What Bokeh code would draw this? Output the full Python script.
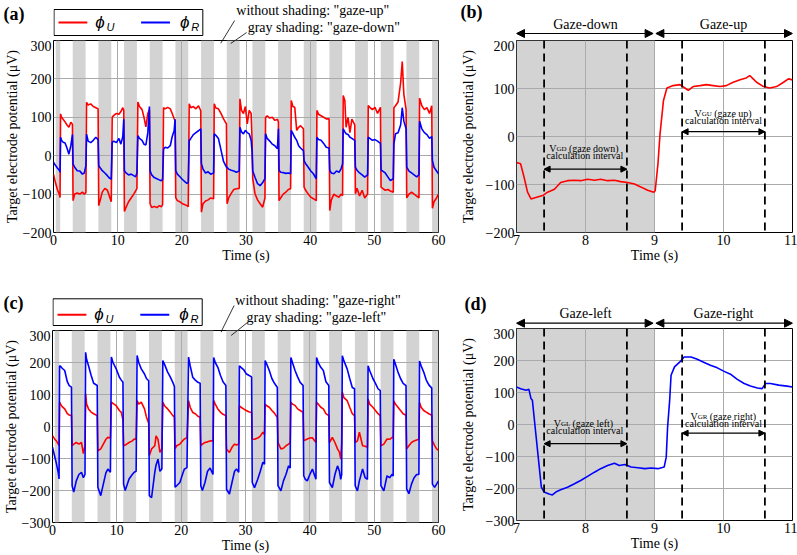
from bokeh.plotting import figure
from bokeh.layouts import column, row
from bokeh.models import (Arrow, BoxAnnotation, CustomJSTickFormatter, FixedTicker,
                          Label, NormalHead, Range1d, Span)
from bokeh.embed import file_html
from bokeh.resources import INLINE

SERIF = "Liberation Serif"
SANS = "Liberation Sans"
RED = "#ff0000"
BLUE = "#0000ff"
SHADE = "#d3d3d3"
GRID = "#aaaaaa"

# ---------------------------------------------------------------- data
# gray bands (gaze-down in (a), gaze-left in (c))
shade_start = [0.35, 3, 7, 11, 15, 19, 23, 27, 31, 35, 39, 43, 47, 51, 55, 59]
shade_end = [1.05, 5, 9, 13, 17, 21, 25, 29, 33, 37, 41, 45, 49, 53, 57, 60]

# (a) vertical-gaze task, 0-60 s
time_a = [
    0.0, 0.3, 0.6, 0.9, 1.02,
    1.1, 1.25, 1.5, 1.8, 2.1, 2.4, 2.7, 2.95,
    3.05, 3.3, 3.7, 4.1, 4.5, 4.8, 5.05,
    5.15, 5.4, 5.8, 6.2, 6.6, 6.95,
    7.05, 7.3, 7.6, 8.0, 8.4, 8.7, 9.0,
    9.15, 9.4, 9.8, 10.2, 10.5, 10.8, 10.95,
    11.05, 11.3, 11.7, 12.1, 12.5, 12.8, 13.0,
    13.15, 13.4, 13.8, 14.1, 14.4, 14.7, 14.95,
    15.05, 15.3, 15.7, 16.1, 16.5, 16.8, 17.0,
    17.15, 17.4, 17.8, 18.2, 18.5, 18.8, 18.95,
    19.05, 19.3, 19.7, 20.1, 20.5, 20.8, 21.0,
    21.15, 21.4, 21.8, 22.2, 22.6, 22.95,
    23.05, 23.3, 23.7, 24.1, 24.5, 24.95,
    25.05, 25.3, 25.7, 26.1, 26.5, 26.95,
    27.05, 27.3, 27.7, 28.1, 28.5, 28.95,
    29.05, 29.3, 29.6, 29.9, 30.2, 30.5, 30.8, 30.95,
    31.05, 31.4, 31.8, 32.2, 32.6, 32.95,
    33.05, 33.3, 33.7, 34.1, 34.5, 34.9, 35.05,
    35.15, 35.4, 35.8, 36.2, 36.6, 36.95,
    37.05, 37.3, 37.6, 37.9, 38.2, 38.5, 38.95,
    39.05, 39.3, 39.7, 40.1, 40.5, 40.95,
    41.05, 41.3, 41.7, 42.1, 42.5, 42.95,
    43.05, 43.3, 43.7, 44.1, 44.5, 44.8, 45.05,
    45.15, 45.4, 45.6, 45.9, 46.2, 46.5, 46.95,
    47.05, 47.3, 47.7, 48.1, 48.5, 48.95,
    49.05, 49.3, 49.7, 50.1, 50.5, 50.95,
    51.05, 51.3, 51.7, 52.1, 52.5, 52.95,
    53.05, 53.3, 53.7, 54.1, 54.35, 54.6, 54.95,
    55.05, 55.4, 55.8, 56.2, 56.6, 56.95,
    57.05, 57.4, 57.8, 58.2, 58.6, 58.95,
    59.05, 59.3, 59.7, 60.0,
]
phi_u_a = [
    -48, -70, -88, -100, -109,
    109, 100, 95, 88, 80, 74, 87, 82,
    -117, -100, -97, -100, -95, -100, -96,
    139, 132, 135, 128, 125, 122,
    -130, -115, -95, -85, -90, -105, -120,
    100, 105, 110, 108, 115, 125, 118,
    -145, -135, -120, -110, -100, -92, -85,
    140, 128, 120, 100, 75, 110, 120,
    -125, -135, -132, -135, -130, -133, -128,
    125, 122, 126, 122, 110, 96, 92,
    -109, -117, -120, -125, -128, -130, -133,
    135, 125, 128, 122, 130, 117,
    -147, -125, -118, -115, -110, -112,
    135, 124, 122, 110, 96, 83,
    -125, -110, -98, -88, -86, -85,
    148, 118, 110, 128, 83, 118, 110, 40,
    -60, -99, -115, -125, -134, -110,
    100, 104, 98, 100, 92, 95, 88,
    -117, -110, -100, -95, -88, -86,
    144, 128, 126, 66, 74, 78, 70,
    -82, -90, -100, -108, -112, -117,
    118, 108, 104, 100, 96, 96,
    -143, -115, -100, -105, -108, -100, -104,
    157, 144, 74, 100, 60, 95, 80,
    -99, -85, -105, -90, -110, -100,
    131, 126, 120, 126, 110, 126,
    -82, -85, -90, -88, -92, -95,
    125, 130, 140, 190, 245, 160, 120,
    -110, -100, -95, -100, -105, -110,
    150, 130, 120, 125, 110, 130,
    -137, -120, -110, -100,
]
phi_r_a = [
    -17, -25, -32, -38, -43,
    48, 40, 35, 33, 20, 4, 26, 55,
    -22, -30, -39, -40, -48, -45, -26,
    56, 38, 34, 40, 48, 42,
    -26, -32, -39, -45, -52, -58, -61,
    35, 38, 34, 45, 30, 50, 95,
    -39, -45, -50, -48, -52, -55, -45,
    52, 45, 40, 30, 28, 60, 128,
    -39, -50, -57, -60, -63, -65, -62,
    17, 22, 20, 26, 50, 65, 95,
    -39, -48, -55, -62, -68, -72, -70,
    39, 45, 55, 60, 65, 70,
    -20, -35, -45, -42, -48, -45,
    57, 53, 45, 15, -15, -30,
    -30, -35, -38, -40, -43, -40,
    74, 62, 57, 66, 60, 57, 40, 10,
    -40, -56, -73, -78, -70, -60,
    57, 45, 38, 30, 26, 18, 70,
    -38, -43, -44, -46, -45, -47,
    66, 58, 48, 40, 26, 20, 13,
    -13, -21, -30, -40, -47, -60,
    48, 42, 40, 32, 22, 20,
    -38, -45, -47, -40, -43, -35, -21,
    70, 62, 57, 55, 48, 45, 40,
    -30, -38, -45, -50, -56, -50,
    48, 45, 40, 42, 38, 32,
    -38, -40, -45, -55, -65, -60,
    31, 57, 60, 80, 125, 90, 70,
    -30, -40, -45, -50, -55, -50,
    90, 70, 60, 55, 45, 50,
    -12, -30, -40, -47,
]

# (b) one gaze-down / gaze-up cycle of phi_U
time_b = [7.0, 7.06, 7.11, 7.16, 7.21, 7.28, 7.38, 7.45, 7.55, 7.64,
          7.74, 7.84, 7.93, 8.03, 8.13, 8.22, 8.32, 8.42, 8.51, 8.61,
          8.71, 8.8, 8.9, 8.99, 9.01, 9.05, 9.08, 9.13, 9.18, 9.27,
          9.37, 9.44, 9.49, 9.56, 9.66, 9.75, 9.85, 9.95, 10.04, 10.14,
          10.24, 10.33, 10.38, 10.43, 10.48, 10.58, 10.67, 10.77, 10.87, 10.94,
          11.0]
phi_u_b = [-54, -57, -85, -116, -130, -127, -123, -116, -110, -96,
           -92, -91, -92, -89, -91, -89, -92, -91, -94, -96,
           -99, -105, -112, -116, -113, -57, 5, 75, 101, 106,
           108, 101, 96, 104, 106, 108, 106, 104, 106, 113,
           118, 122, 127, 120, 113, 104, 101, 104, 113, 120,
           118]

# (c) horizontal-gaze task, 0-60 s
time_c = [
    0.0, 0.3, 0.6, 0.9, 1.02,
    1.1, 1.25, 1.5, 1.9, 2.3, 2.6, 2.95,
    3.05, 3.3, 3.7, 4.1, 4.5, 4.8, 5.05,
    5.15, 5.3, 5.6, 6.0, 6.4, 6.95,
    7.05, 7.5, 7.9, 8.3, 8.6, 9.0,
    9.15, 9.4, 9.9, 10.4, 10.7, 10.95,
    11.05, 11.3, 11.9, 12.4, 12.7, 13.0,
    13.15, 13.4, 13.8, 14.3, 14.6, 14.95,
    15.05, 15.4, 15.9, 16.1, 16.4, 16.7, 17.0,
    17.15, 17.4, 17.9, 18.3, 18.7, 18.95,
    19.05, 19.3, 19.8, 20.2, 20.5, 20.9,
    21.15, 21.4, 21.8, 22.2, 22.6, 22.95,
    23.05, 23.3, 23.7, 24.1, 24.5, 24.95,
    25.05, 25.3, 25.7, 26.1, 26.5, 26.95,
    27.05, 27.5, 27.9, 28.3, 28.6, 28.95,
    29.05, 29.3, 29.7, 30.1, 30.5, 30.95,
    31.05, 31.4, 31.9, 32.3, 32.7, 32.95,
    33.05, 33.3, 33.7, 34.1, 34.5, 34.95,
    35.05, 35.5, 35.9, 36.3, 36.7, 36.95,
    37.05, 37.3, 37.7, 38.1, 38.5, 38.95,
    39.05, 39.3, 39.6, 40.0, 40.4, 40.95,
    41.05, 41.3, 41.7, 42.1, 42.5, 42.95,
    43.05, 43.5, 43.9, 44.3, 44.6, 44.8, 44.95,
    45.05, 45.3, 45.8, 46.2, 46.6, 46.95,
    47.05, 47.4, 47.7, 48.2, 48.6, 48.95,
    49.05, 49.3, 49.8, 50.2, 50.6, 50.95,
    51.05, 51.5, 52.0, 52.4, 52.8, 52.95,
    53.05, 53.3, 53.7, 54.1, 54.5, 54.95,
    55.05, 55.4, 55.8, 56.2, 56.6, 56.95,
    57.05, 57.3, 57.7, 58.1, 58.5, 58.95,
    59.05, 59.4, 59.7, 60.0,
]
phi_u_c = [
    -29, -38, -45, -55, -60,
    76, 70, 62, 55, 40, 36, 34,
    -60, -55, -50, -55, -50, -85, -60,
    102, 70, 55, 45, 40, 34,
    -76, -70, -55, -40, -34, -36,
    76, 72, 65, 50, 44, 20,
    -60, -58, -50, -45, -39, -40,
    81, 70, 76, 55, 30, 10,
    -91, -70, -60, -29, -40, -81, -70,
    76, 65, 55, 45, 34, 30,
    -70, -60, -55, -45, -39, -35,
    81, 60, 44, 40, 32, 29,
    -60, -55, -50, -48, -45, -45,
    81, 70, 55, 45, 38, 34,
    -70, -81, -65, -55, -58, -55,
    65, 60, 55, 50, 46, 44,
    -39, -40, -36, -30, -18, -25,
    70, 65, 60, 50, 42, 28,
    -50, -70, -68, -60, -55, -50,
    76, 70, 66, 55, 50, 44,
    -44, -42, -39, -36, -35, -50,
    76, 70, 60, 55, 40, 34,
    -50, -34, -50, -70, -80, -102, -50,
    107, 90, 81, 60, 40, 34,
    -50, -45, -18, -60, -62, -65,
    86, 70, 60, 50, 40, 34,
    -60, -55, -39, -40, -34, -35,
    80, 70, 60, 50, 40, 35,
    -70, -60, -50, -45, -42, -40,
    75, 60, 50, 45, 40, 35,
    -45, -60, -70, -75,
]
phi_r_c = [
    -65, -90, -115, -145, -164,
    190, 188, 182, 175, 140, 128, 123,
    -185, -205, -170, -150, -143, -160, -150,
    232, 210, 190, 160, 135, 128,
    -190, -216, -180, -145, -133, -143,
    217, 200, 180, 154, 145, 138,
    -180, -200, -164, -150, -143, -140,
    222, 200, 180, 164, 150, 143,
    -216, -222, -143, -120, -102, -140, -133,
    206, 195, 170, 155, 138, 125,
    -190, -185, -175, -150, -133, -128,
    217, 190, 154, 145, 138, 135,
    -185, -200, -175, -140, -130, -150,
    216, 200, 185, 160, 140, 128,
    -196, -211, -175, -140, -133, -143,
    190, 185, 178, 165, 160, 155,
    -175, -191, -165, -140, -112, -118,
    206, 195, 175, 150, 135, 122,
    -185, -201, -170, -149, -123, -130,
    216, 200, 175, 155, 138, 128,
    -154, -165, -170, -150, -133, -165,
    216, 200, 185, 175, 140, 128,
    -175, -191, -150, -123, -140, -165, -150,
    221, 205, 180, 150, 122, 118,
    -185, -201, -170, -133, -160, -165,
    190, 175, 150, 135, 118, 112,
    -185, -201, -154, -160, -149, -155,
    210, 195, 170, 150, 135, 128,
    -195, -210, -180, -160, -150, -150,
    205, 190, 170, 145, 130, 120,
    -180, -190, -180, -170,
]

# (d) one gaze-left / gaze-right cycle of phi_R
time_d = [7.0, 7.06, 7.14, 7.18, 7.21, 7.23, 7.28, 7.33, 7.36, 7.4,
          7.47, 7.52, 7.57, 7.64, 7.74, 7.84, 7.93, 8.03, 8.13, 8.22,
          8.32, 8.42, 8.49, 8.57, 8.66, 8.76, 8.86, 8.95, 9.05, 9.14,
          9.17, 9.19, 9.22, 9.24, 9.29, 9.36, 9.43, 9.53, 9.62, 9.72,
          9.81, 9.91, 10.01, 10.11, 10.2, 10.3, 10.39, 10.49, 10.56, 10.61,
          10.68, 10.8, 10.92, 11.0]
phi_r_d = [117, 112, 107, 110, 81, 76, -29, -133, -196, -211,
           -217, -220, -211, -204, -196, -185, -175, -162, -149, -138,
           -128, -121, -128, -125, -133, -135, -138, -136, -138, -133,
           -102, -8, 76, 154, 180, 194, 211, 211, 204, 194,
           185, 177, 166, 156, 141, 128, 120, 114, 112, 128,
           128, 123, 120, 117]

# calculation-interval boundaries (s)
interval_lines = [7.4, 8.6, 9.4, 10.6]

ticks_long = [0, 10, 20, 30, 40, 50, 60]
ticks_short = [7, 8, 9, 10, 11]
yticks_a = [-200, -100, 0, 100, 200, 300]
yticks_b = [-200, -100, 0, 100, 200]
yticks_cd = [-300, -200, -100, 0, 100, 200, 300]


# ---------------------------------------------------------------- helpers
def make_panel(width, height, xr, yr, xticks, yticks, borders, ylabel_standoff):
    left, right, bottom = borders
    p = figure(width=width, height=height,
               x_range=Range1d(*xr), y_range=Range1d(*yr),
               output_backend="svg", toolbar_location=None, title_location=None,
               min_border_left=left, min_border_right=right,
               min_border_top=0, min_border_bottom=bottom)
    p.xaxis.ticker = FixedTicker(ticks=xticks)
    p.yaxis.ticker = FixedTicker(ticks=yticks)
    p.yaxis.formatter = CustomJSTickFormatter(
        code="return (tick < 0 ? '\\u2212' : '') + Math.abs(tick);")
    for ax in (p.xaxis[0], p.yaxis[0]):
        ax.major_tick_in = 0
        ax.major_tick_out = 0
        ax.minor_tick_in = 0
        ax.minor_tick_out = 0
        ax.axis_line_color = None
        ax.major_label_text_font = SERIF
        ax.major_label_text_font_size = "14px"
        ax.major_label_text_color = "black"
        ax.axis_label_text_font = SERIF
        ax.axis_label_text_font_size = "14px"
        ax.axis_label_text_font_style = "normal"
        ax.axis_label_text_color = "black"
    p.xaxis.axis_label = "Time (s)"
    p.yaxis.axis_label = "Target electrode potential (\u03bcV)"
    p.xaxis.major_label_standoff = 2
    p.xaxis.axis_label_standoff = 0
    p.yaxis.major_label_standoff = 2
    p.yaxis.axis_label_standoff = ylabel_standoff
    for g in (p.xgrid[0], p.ygrid[0]):
        g.grid_line_color = GRID
        g.grid_line_width = 1
    p.outline_line_color = "black"
    p.outline_line_width = 1
    p.background_fill_color = "white"
    p.border_fill_color = "white"
    return p


def make_header(width, height, xr, left, right, tag, tag_y, tag_standoff):
    # strip above a panel: x shares the panel's time scale, y is in pixels
    # counted from the top; the panel letter sits in the left margin
    h = figure(width=width, height=height,
               x_range=Range1d(*xr), y_range=Range1d(height, 0),
               output_backend="svg", toolbar_location=None, title_location=None,
               x_axis_location=None, y_axis_location="left",
               min_border_left=left, min_border_right=right,
               min_border_top=0, min_border_bottom=0)
    h.grid.visible = False
    ax = h.yaxis[0]
    ax.ticker = FixedTicker(ticks=[tag_y])
    ax.formatter = CustomJSTickFormatter(code="return '%s';" % tag)
    ax.axis_line_color = None
    ax.major_tick_in = 0
    ax.major_tick_out = 0
    ax.minor_tick_in = 0
    ax.minor_tick_out = 0
    ax.major_label_standoff = tag_standoff
    ax.major_label_text_font = SERIF
    ax.major_label_text_font_size = "18px"
    ax.major_label_text_font_style = "bold"
    ax.major_label_text_color = "black"
    h.outline_line_color = None
    h.background_fill_color = "white"
    h.border_fill_color = "white"
    return h


def text(p, x, y, s, size="14px", align="center", baseline="middle",
         style="normal", font=SERIF):
    p.add_layout(Label(x=x, y=y, text=s, text_font=font, text_font_size=size,
                       text_font_style=style, text_align=align,
                       text_baseline=baseline, text_color="black"))


def double_arrow(p, x0, x1, y, size=8, width=1.2):
    head = dict(size=size, fill_color="black", line_color="black", line_width=1)
    p.add_layout(Arrow(x_start=x0, y_start=y, x_end=x1, y_end=y,
                       start=NormalHead(**head), end=NormalHead(**head),
                       line_color="black", line_width=width))


def shading(p, starts, ends):
    for s, e in zip(starts, ends):
        p.add_layout(BoxAnnotation(left=s, right=e, fill_color=SHADE, fill_alpha=1.0,
                                   line_color=None, level="image"))


def legend_box(h, top, bottom, y_line, y_sub):
    h.quad(left=[0.08], right=[23.27], top=[top], bottom=[bottom],
           fill_color="white", line_color="black", line_width=1)
    h.segment(x0=[0.78], y0=[y_line], x1=[5.27], y1=[y_line], line_color=RED, line_width=2)
    h.segment(x0=[13.65], y0=[y_line], x1=[18.15], y1=[y_line], line_color=BLUE, line_width=2)
    text(h, 6.5, y_line, "\u03d5", size="17px", align="left", style="italic", font=SANS)
    text(h, 8.25, y_sub, "U", size="11px", align="left", style="italic", font=SANS)
    text(h, 19.7, y_line, "\u03d5", size="17px", align="left", style="italic", font=SANS)
    text(h, 21.45, y_sub, "R", size="11px", align="left", style="italic", font=SANS)


def interval_note(p, x_v, x_sub, x_rest, y_base, sub, rest, y_calc, x_mid, y_arrow, x0, x1):
    text(p, x_v, y_base, "V", size="10px", align="left", baseline="alphabetic")
    text(p, x_sub, y_base, sub, size="7px", align="left", baseline="alphabetic")
    text(p, x_rest, y_base, rest, size="10px", align="left", baseline="alphabetic")
    text(p, x_mid, y_calc, "calculation interval", size="10px")
    double_arrow(p, x0, x1, y_arrow, size=6, width=1.2)


def dashed_bounds(p):
    for xv in interval_lines:
        p.add_layout(Span(location=xv, dimension="height", line_color="black",
                          line_width=1.8, line_dash="8 5"))


# ---------------------------------------------------------------- (a)
ha = make_header(455, 40, (0, 60), 51, 17, "(a)", 13, 29)
legend_box(ha, 9, 35, 22, 26)
text(ha, 40.41, 10, "without shading: \"gaze-up\"")
text(ha, 42.12, 27, "gray shading: \"gaze-down\"")
ha.segment(x0=[26.33, 28.3], y0=[40, 40], x1=[28.23, 30.1], y1=[20, 32],
           line_color="black", line_width=0.8)

pa = make_panel(455, 235, (0, 60), (-200, 300), ticks_long, yticks_a, (51, 17, 43), 0)
shading(pa, shade_start, shade_end)
pa.line(time_a, phi_u_a, line_color=RED, line_width=1.6)
pa.line(time_a, phi_r_a, line_color=BLUE, line_width=1.6)
pa.segment(x0=[26.06, 27.61], y0=[293, 292.2], x1=[26.33, 28.3], y1=[300, 300],
           line_color="black", line_width=0.8)

# ---------------------------------------------------------------- (b)
hb = make_header(342, 40, (7, 11), 61, 5, "(b)", 11, 34)
double_arrow(hb, 7.0, 8.98, 33)
double_arrow(hb, 9.02, 11.0, 33)
text(hb, 8.0, 24, "Gaze-down")
text(hb, 10.0, 24, "Gaze-up")

pb = make_panel(342, 235, (7, 11), (-200, 200), ticks_short, yticks_b, (61, 5, 43), 7)
shading(pb, [7], [9])
pb.line(time_b, phi_u_b, line_color=RED, line_width=1.6)
dashed_bounds(pb)
interval_note(pb, 7.475, 7.58, 7.76, -26, "GD", "(gaze down)", -40, 7.99, -68, 7.4, 8.6)
interval_note(pb, 9.58, 9.685, 9.865, 47, "GU", "(gaze up)", 33, 10.0, 10, 9.4, 10.6)

# ---------------------------------------------------------------- (c)
hc = make_header(455, 55, (0, 60), 51, 17, "(c)", 27, 29)
legend_box(hc, 23.3, 50, 39.3, 43.3)
text(hc, 41.27, 25, "without shading: \"gaze-right\"")
text(hc, 41.03, 41.7, "gray shading: \"gaze-left\"")
hc.segment(x0=[26.31, 28.75], y0=[55, 55], x1=[28.23, 30.36], y1=[30, 46.7],
           line_color="black", line_width=0.8)

pc = make_panel(455, 225, (0, 60), (-300, 300), ticks_long, yticks_cd, (51, 17, 33), 0)
shading(pc, shade_start, shade_end)
pc.line(time_c, phi_u_c, line_color=RED, line_width=1.6)
pc.line(time_c, phi_r_c, line_color=BLUE, line_width=1.6)
pc.segment(x0=[26.22, 27.77], y0=[294.7, 284.4], x1=[26.31, 28.75], y1=[300, 300],
           line_color="black", line_width=0.8)

# ---------------------------------------------------------------- (d)
hd = make_header(342, 53, (7, 11), 61, 5, "(d)", 28, 30)
double_arrow(hd, 7.0, 8.98, 47.7)
double_arrow(hd, 9.02, 11.0, 47.7)
text(hd, 8.0, 38.3, "Gaze-left")
text(hd, 10.0, 38.3, "Gaze-right")

pd = make_panel(342, 227, (7, 11), (-300, 300), ticks_short, yticks_cd, (61, 5, 35), 7)
shading(pd, [7], [9])
pd.line(time_d, phi_r_d, line_color=BLUE, line_width=1.6)
dashed_bounds(pd)
interval_note(pd, 7.54, 7.645, 7.81, 2, "GL", "(gaze left)", -18, 7.99, -60, 7.4, 8.6)
interval_note(pd, 9.523, 9.627, 9.80, 24, "GR", "(gaze right)", 2, 10.0, -27, 9.4, 10.6)

layout = column(
    row(column(ha, pa, spacing=0), column(hb, pb, spacing=0), spacing=0),
    row(column(hc, pc, spacing=0), column(hd, pd, spacing=0), spacing=0),
    spacing=0,
)
open("out.html", "w").write(file_html(layout, INLINE))
